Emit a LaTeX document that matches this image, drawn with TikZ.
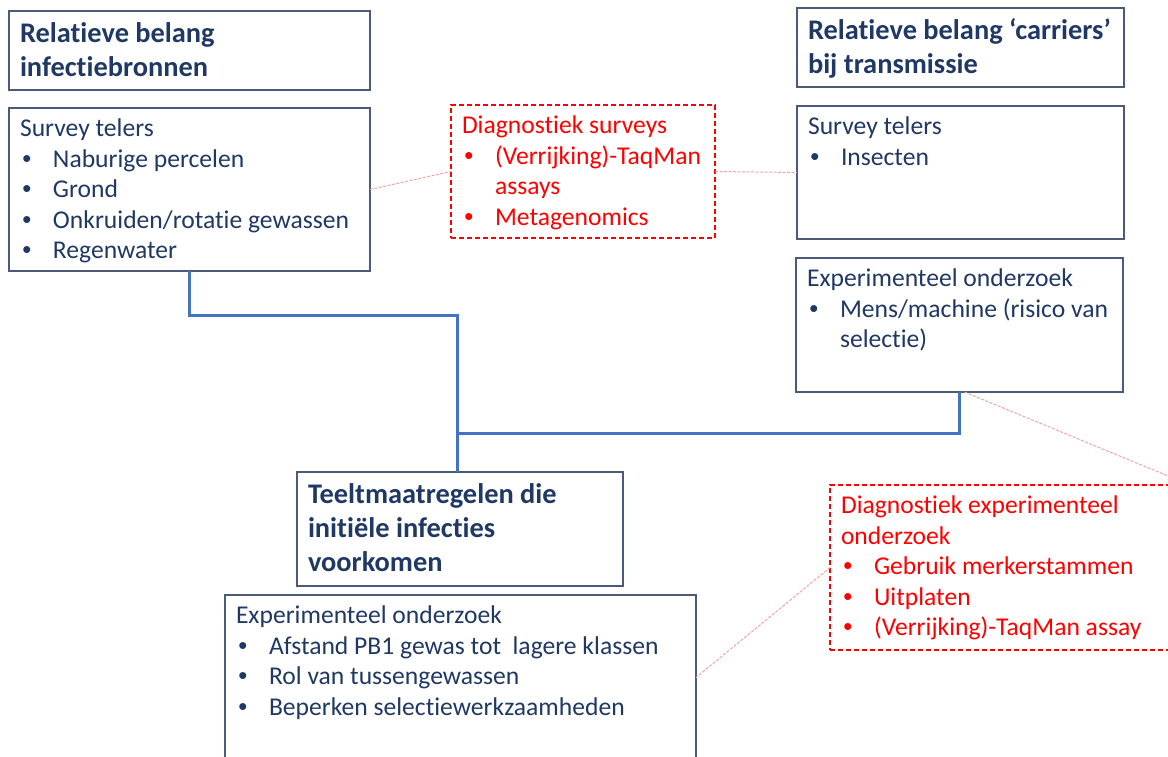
\documentclass[tikz,border=0pt]{standalone}
\usepackage{fontspec}
\setmainfont{Carlito}[Ligatures=NoCommon]
\newfontfamily\arialfont{Liberation Sans}
\usetikzlibrary{positioning}

\definecolor{navy}{HTML}{1F3864}
\definecolor{rand}{HTML}{4A5A78}
\definecolor{lijn}{HTML}{4472C4}
\definecolor{rood}{HTML}{FF0000}
\definecolor{stip}{HTML}{F3A3A3}

\newcommand{\itm}{\makebox[16.5pt][l]{\hspace{1.2pt}{\arialfont\textbullet}}}
\newcommand{\ind}{\hspace*{16.5pt}}

\begin{document}
\begin{tikzpicture}[
  x=0.5pt, y=-0.5pt,
  every node/.style={inner sep=0pt, outer sep=0pt},
  box/.style={rectangle, draw=rand, line width=0.75pt, anchor=north west},
  dbox/.style={rectangle, draw=rood, line width=0.6pt,
               dash pattern=on 2.5pt off 1.5pt, anchor=north west},
  txt/.style={anchor=north west, inner xsep=5.5pt, inner ysep=3.6pt,
              align=left, text=navy,
              font=\fontsize{12.8pt}{15.25pt}\selectfont},
  kop/.style={txt, font=\fontsize{14.2pt}{17pt}\selectfont\bfseries},
  rtxt/.style={txt, text=rood},
  link/.style={draw=lijn, line width=1.5pt},
  stippel/.style={draw=stip, line width=0.5pt, dash pattern=on 1.5pt off 0.75pt},
]
\useasboundingbox (0,0) rectangle (1168,756);

%% ── Bus positions ─────────────────────────────────────
\def\bx{457}  % vertical bus x
\def\by{433}  % horizontal bus y

%% ── Left column ───────────────────────────────────────
\node[box, minimum width=180.5pt, minimum height=39.5pt] (h1) at (9,11) {};
\node[kop] (h1t) at (h1.north west) {\strut Relatieve belang\\infectiebronnen};

\node[box, minimum width=180.5pt, minimum height=81.5pt] (s1) at (9,108) {};
\node[txt] (s1t) at (s1.north west)
  {\strut Survey telers\\\itm Naburige percelen\\\itm Grond\\
   \itm Onkruiden/rotatie gewassen\\\itm Regenwater};

%% ── Diagnostics (red) ─────────────────────────────────
\node[dbox, minimum width=132pt, minimum height=66.5pt] (d1) at (451,105) {};
\node[rtxt] (d1t) at (d1.north west)
  {\strut Diagnostiek surveys\\\itm (Verrijking)-TaqMan\\\ind assays\\\itm Metagenomics};

\node[dbox, minimum width=180pt, minimum height=82.5pt] (d2) at (830,485) {};
\node[rtxt] (d2t) at (d2.north west)
  {\strut Diagnostiek experimenteel\\onderzoek\\\itm Gebruik merkerstammen\\
   \itm Uitplaten\\\itm (Verrijking)-TaqMan assay};

%% ── Right column ──────────────────────────────────────
\node[box, minimum width=163.5pt, minimum height=39.5pt] (h2) at (797,8) {};
\node[kop] (h2t) at (h2.north west) {\strut Relatieve belang ‘carriers’\\bij transmissie};

\node[box, minimum width=163.5pt, minimum height=66.5pt] (s2) at (797,106) {};
\node[txt] (s2t) at (s2.north west) {\strut Survey telers\\\itm Insecten};

\node[box, minimum width=163.5pt, minimum height=67pt] (e2) at (796,258) {};
\node[txt] (e2t) at (e2.north west)
  {\strut Experimenteel onderzoek\\\itm Mens/machine (risico van\\\ind selectie)};

%% ── Bottom ────────────────────────────────────────────
\node[box, minimum width=163pt, minimum height=57pt] (h3) at (297,472) {};
\node[kop] (h3t) at (h3.north west)
  {\strut Teeltmaatregelen die\\initiële infecties\\voorkomen};

\node[box, minimum width=235.5pt, minimum height=82.5pt] (e3) at (225,595) {};
\node[txt] (e3t) at (e3.north west)
  {\strut Experimenteel onderzoek\\\itm Afstand PB1 gewas tot\ \ lagere klassen\\
   \itm Rol van tussengewassen\\\itm Beperken selectiewerkzaamheden};

%% ── Blue connectors ───────────────────────────────────
\coordinate (knik) at (\bx,315);
\coordinate (bus)  at (\bx,\by);
\draw[link] (s1.south) |- (knik) -- (knik |- h3.north);
\draw[link] (e2.south) |- (bus);

%% ── Dotted links to diagnostics ───────────────────────
\draw[stippel] (s1.east) -- (d1.west);
\draw[stippel] (d1.east) -- (s2.west);
\draw[stippel] ([xshift=2.5pt]e2.south) -- (d2.north east);
\draw[stippel] (d2.west) -- (e3.east);

\end{tikzpicture}
\end{document}
